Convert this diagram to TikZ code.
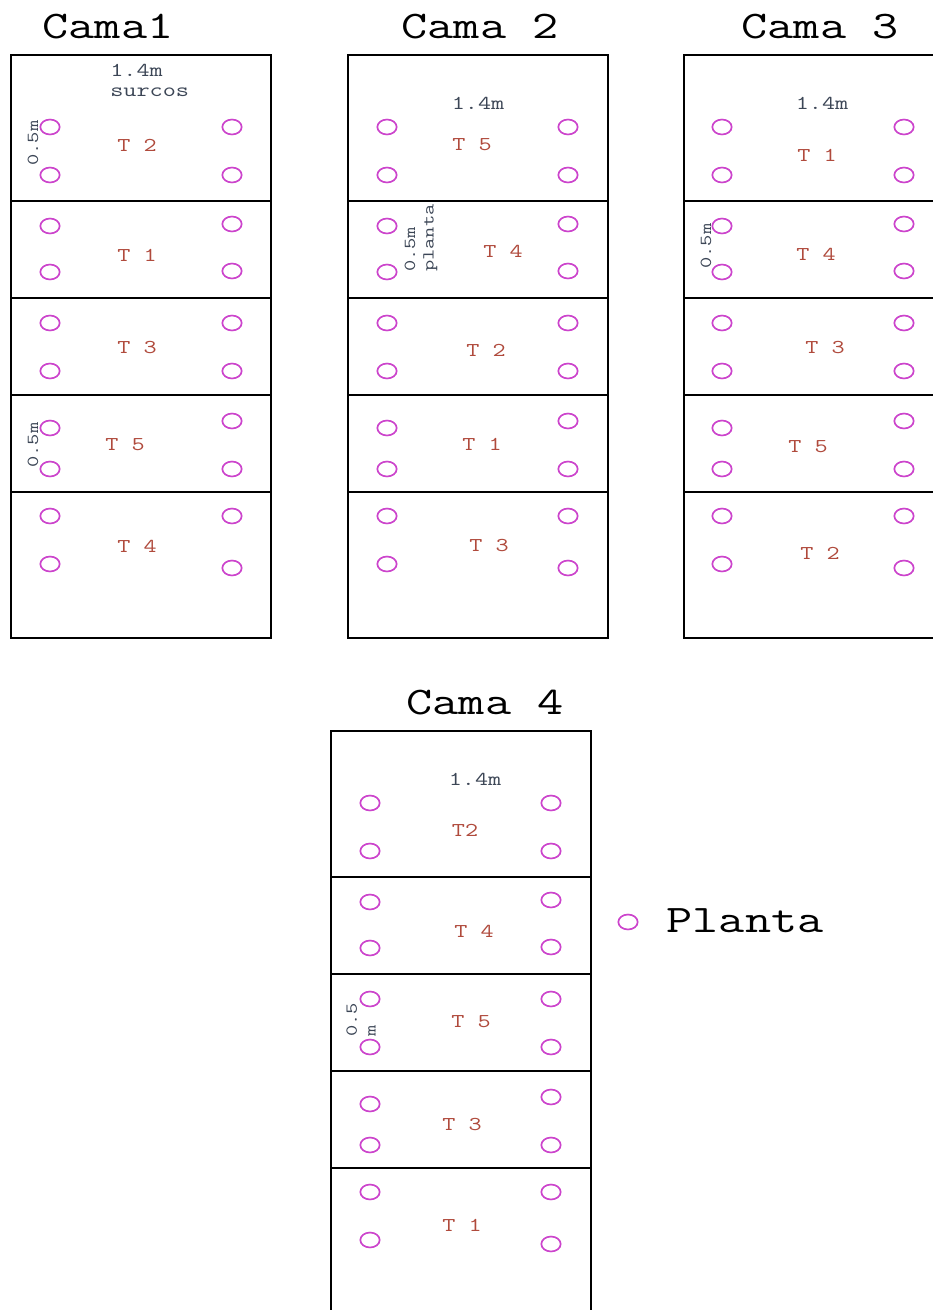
\documentclass[tikz,border=0pt]{standalone}
\usepackage{fontspec}
\newfontfamily\cour[FakeStretch=1.3]{Latin Modern Mono}
\usetikzlibrary{shapes.geometric}
\definecolor{plantc}{HTML}{CC44CC}
\definecolor{trtc}{HTML}{B04A3C}
\definecolor{dimc}{HTML}{3C4656}
\begin{document}
\begin{tikzpicture}[x=0.75pt,y=-0.75pt,
  plantmark/.style={draw=plantc, line width=1.25pt, ellipse, minimum width=14.5pt, minimum height=11.2pt, inner sep=0pt},
  trtlbl/.style={text=trtc, font=\cour\fontsize{14.7}{16}\selectfont, inner sep=0pt},
  dimlbl/.style={text=dimc, font=\cour\fontsize{12.6}{14}\selectfont, inner sep=0pt, align=left},
  toplbl/.style={text=dimc, font=\cour\fontsize{14.7}{12}\selectfont, inner sep=0pt, align=left},
  titlelbl/.style={text=black, font=\cour\fontsize{29.3}{32}\selectfont, inner sep=0pt},
  bedline/.style={draw=black, line width=0.9pt}]
\useasboundingbox (0,0) rectangle (932,1310);
\fill[white] (0,0) rectangle (932,1310);

% beds
\foreach \bx/\by/\b in {11/55/1, 348/55/2, 684/55/3, 331/731/4}{
  \draw[bedline] (\bx,\by) rectangle ++(260,583);
  \foreach \dy in {146,243,340,437}{
    \draw[bedline] (\bx,\by+\dy) -- ++(260,0);
  }
}

% plants
\foreach \lx/\rx/\oy/\b in {50/232/0/1, 387/568/0/2, 722/904/0/3, 370/551/676/4}{
  \foreach \ya/\yb/\yc/\yd [count=\s] in {127/175/127/175, 226/272/224/271, 323/371/323/371, 428/469/421/469, 516/564/516/568}{
    \node[plantmark] (p\b-\s-la) at (\lx,\ya+\oy) {};
    \node[plantmark] (p\b-\s-lb) at (\lx,\yb+\oy) {};
    \node[plantmark] (p\b-\s-ra) at (\rx,\yc+\oy) {};
    \node[plantmark] (p\b-\s-rb) at (\rx,\yd+\oy) {};
  }
}

% titles
\node[titlelbl] (t1) at (108,27) {Cama1};
\node[titlelbl] (t2) at (480,27) {Cama 2};
\node[titlelbl] (t3) at (820,27) {Cama 3};
\node[titlelbl] (t4) at (485,703) {Cama 4};

% treatments bed 1
\node[trtlbl] (b1s1) at (137,145) {T 2};
\node[trtlbl] (b1s2) at (137,255) {T 1};
\node[trtlbl] (b1s3) at (137,348) {T 3};
\node[trtlbl] (b1s4) at (125,445) {T 5};
\node[trtlbl] (b1s5) at (137,546) {T 4};
% bed 2
\node[trtlbl] (b2s1) at (472,145) {T 5};
\node[trtlbl] (b2s2) at (503,251) {T 4};
\node[trtlbl] (b2s3) at (486,350) {T 2};
\node[trtlbl] (b2s4) at (482,444) {T 1};
\node[trtlbl] (b2s5) at (489,546) {T 3};
% bed 3
\node[trtlbl] (b3s1) at (817,155) {T 1};
\node[trtlbl] (b3s2) at (816,254) {T 4};
\node[trtlbl] (b3s3) at (825,348) {T 3};
\node[trtlbl] (b3s4) at (808,447) {T 5};
\node[trtlbl] (b3s5) at (820,553) {T 2};
% bed 4
\node[trtlbl] (b4s1) at (465,830) {T2};
\node[trtlbl] (b4s2) at (474,931) {T 4};
\node[trtlbl] (b4s3) at (471,1022) {T 5};
\node[trtlbl] (b4s4) at (462,1124) {T 3};
\node[trtlbl] (b4s5) at (462,1225) {T 1};

% dimensions
\node[toplbl, anchor=base west, text depth=0pt] (w1a) at (110,76) {1.4m};
\node[toplbl, anchor=base west, text height=1ex, text depth=0pt] (w1b) at (110,96) {surcos};
\node[toplbl] (w2) at (478,103) {1.4m};
\node[toplbl] (w3) at (822,103) {1.4m};
\node[toplbl] (w4) at (475,779) {1.4m};
\node[dimlbl, rotate=90] (h1a) at (33,143) {0.5m};
\node[dimlbl, rotate=90] (h1b) at (33,445) {0.5m};
\node[dimlbl, rotate=90] (h2) at (421,238) {0.5m\\planta};
\node[dimlbl, rotate=90] (h3) at (706,246) {0.5m};
\node[dimlbl, rotate=90] (h4) at (361,1020) {0.5\\m};

% legend
\node[plantmark] (leg) at (628,922) {};
\node[titlelbl] (legt) at (745,921) {Planta};
\end{tikzpicture}
\end{document}
